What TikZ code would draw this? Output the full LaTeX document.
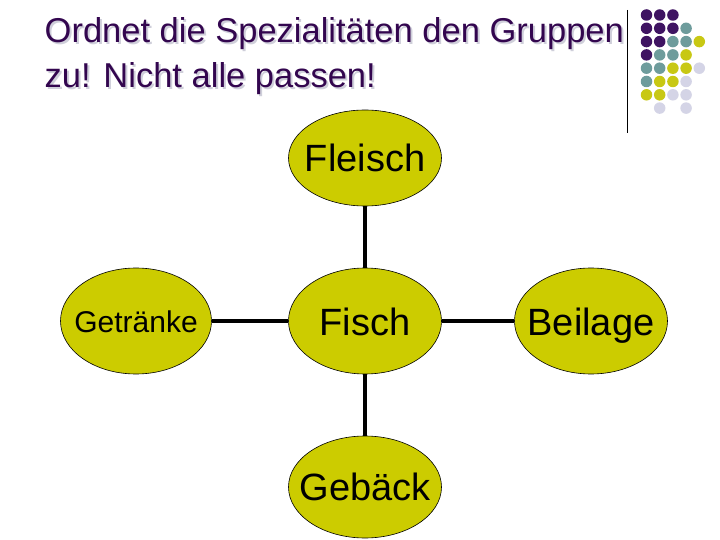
\documentclass[tikz,border=0pt]{standalone}
\usepackage{fontspec}
\setmainfont{Liberation Sans}
\usetikzlibrary{shapes.geometric}
\definecolor{titlepurple}{HTML}{33064F}
\definecolor{shadowgray}{HTML}{CFCFDA}
\definecolor{nodefill}{HTML}{CCCC00}
\definecolor{dotP}{HTML}{3F1462}
\definecolor{dotT}{HTML}{6E9C9C}
\definecolor{dotY}{HTML}{C8C814}
\definecolor{dotL}{HTML}{D4D4E6}
\newcommand{\shadowtext}[1]{\makebox[0pt][l]{\hspace{2pt}\raisebox{-2pt}{\textcolor{shadowgray}{#1}}}\textcolor{titlepurple}{#1}}
\tikzset{
  bubble/.style={ellipse, draw=black, line width=0.6pt, fill=nodefill, inner sep=0pt,
    minimum width=153pt, minimum height=#1},
  lbl/.style={inner sep=0pt, anchor=base, font=\fontsize{38}{40}\selectfont},
  link/.style={draw=black, line width=3.2pt},
  ttl/.style={anchor=base west, inner sep=0pt, font=\fontsize{34.5}{40}\selectfont},
  dot/.style={circle, inner sep=0pt, minimum size=11.5pt}
}
\begin{document}
\begin{tikzpicture}[x=1pt,y=1pt]
\useasboundingbox (0,0) rectangle (720,-540);
\fill[white] (0,0) rectangle (720,-540);
% title with shadow
\node[ttl] (t1) at (44.5,-43) {\shadowtext{Ordnet die Spezialitäten den Gruppen}};
\node[ttl] (t2) at (44.5,-88) {\shadowtext{zu! Nicht alle passen!}};
% separator line
\draw[black, line width=0.8pt] (627,-10) -- (627,-133);
% dot grid
\foreach \r/\row in {1/{P,P,P}, 2/{P,P,P,T}, 3/{P,P,T,T,Y}, 4/{P,T,T,Y}, 5/{T,T,Y,Y,L}, 6/{T,Y,Y,L}, 7/{Y,Y,L,L}} {
  \foreach \c [count=\k] in \row {
    \node[dot, fill=dot\c] at ({646.5+13.2*(\k-1)}, {-15-13.3*(\r-1)}) {};
  }
}
\node[dot, fill=dotL] at (659.7,-108.1) {};
\node[dot, fill=dotL] at (686.1,-108.1) {};
% nodes
\node[bubble=96pt] (fleisch) at (365,-158) {};
\node[bubble=106pt] (fisch) at (365,-321) {};
\node[bubble=106pt, minimum width=151pt] (getr) at (136,-321) {};
\node[bubble=106pt] (beilage) at (591,-321) {};
\node[bubble=102pt] (geback) at (365,-487) {};
\node[lbl] at ([yshift=-13.5pt]fleisch) {Fleisch};
\node[lbl] at ([yshift=-14pt]fisch) {Fisch};
\node[lbl, font=\fontsize{30}{32}\selectfont] at ([yshift=-11pt]getr) {Getränke};
\node[lbl] at ([yshift=-14pt]beilage) {Beilage};
\node[lbl] at ([yshift=-13.5pt]geback) {Gebäck};
% connectors
\draw[link] (getr.east) -- (fisch.west);
\draw[link] (fisch.east) -- (beilage.west);
\draw[link] (fleisch.south) -- (fisch.north);
\draw[link] (fisch.south) -- (geback.north);
\end{tikzpicture}
\end{document}
